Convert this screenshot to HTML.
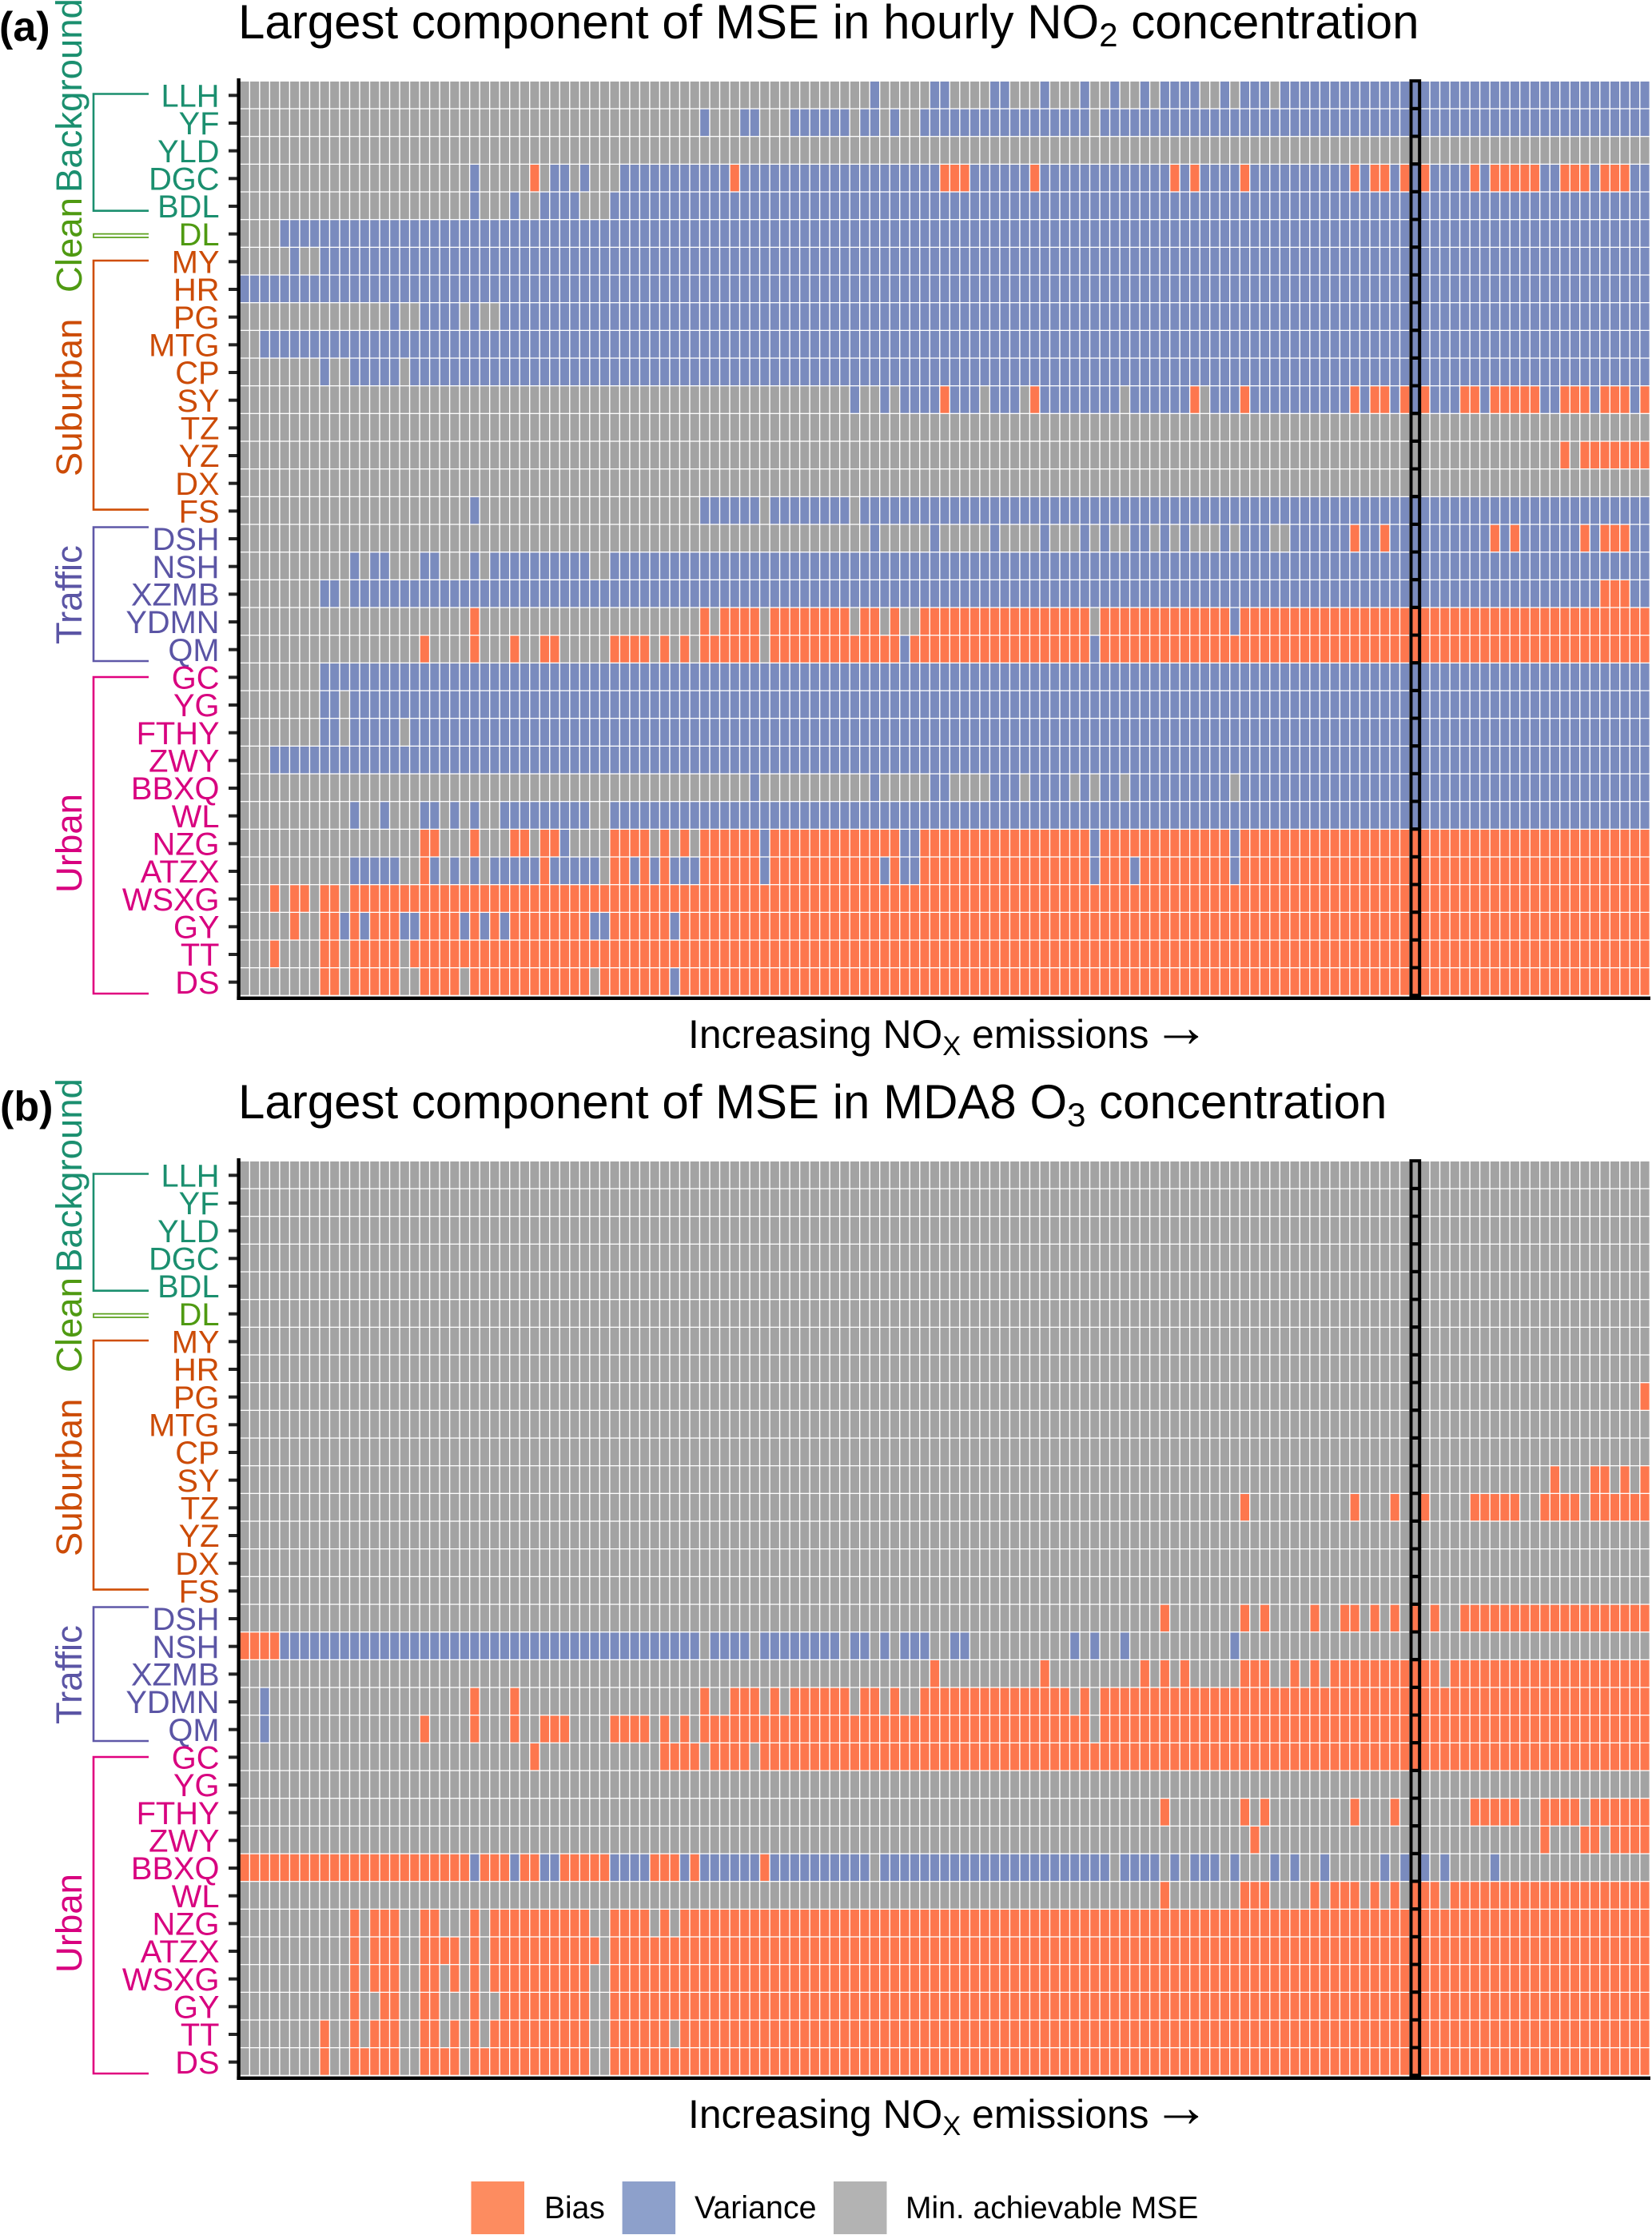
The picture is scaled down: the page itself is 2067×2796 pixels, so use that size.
<!DOCTYPE html>
<html lang="en">
<head>
<meta charset="utf-8">
<title>Largest component of MSE</title>
<style>
html,body{margin:0;padding:0;background:#fff;}
svg{display:block;font-family:"Liberation Sans",Arial,sans-serif;}
</style>
</head>
<body>
<svg id="chart" xmlns="http://www.w3.org/2000/svg" width="2067" height="2796" viewBox="0 0 2067 2796">
  <rect x="0" y="0" width="2067" height="2796" fill="#fff"/>

  <g id="panel-a">
    <text x="-1" y="51" font-size="52" font-weight="bold" fill="#000">(a)</text>
    <text x="298" y="48" font-size="60" fill="#000">Largest component of MSE in hourly NO<tspan font-size="42" dy="10">2</tspan><tspan dy="-10"> concentration</tspan></text>
    <g id="cells-a"></g>
    <g id="ylabels-a"></g>
    <g fill="none" stroke-width="2.6">
      <path d="M186 117.5H117V263.7H186" stroke="#1b8f6f"/>
      <path d="M186 292.6H117V297H186" stroke="#5ba01c" stroke-width="1.7"/>
      <path d="M186 326H117V637.6H186" stroke="#cf4e06"/>
      <path d="M186 659.5H117V827H186" stroke="#5f58a8"/>
      <path d="M186 847H117V1243H186" stroke="#e0007f"/>
    </g>
    <g font-size="45.5">
      <text transform="translate(102 241) rotate(-90)" fill="#1b8f6f">Background</text>
      <text transform="translate(102 366) rotate(-90)" fill="#4f9a12">Clean</text>
      <text transform="translate(102 596) rotate(-90)" fill="#cc4b06">Suburban</text>
      <text transform="translate(102 806) rotate(-90)" fill="#5b55a5">Traffic</text>
      <text transform="translate(102 1117) rotate(-90)" fill="#d8007f">Urban</text>
    </g>
    <text x="861" y="1311" font-size="49.8" fill="#000">Increasing NO<tspan font-size="34.5" dy="9">X</tspan><tspan dy="-9"> emissions</tspan><tspan font-size="72" x="1442" dy="-2">→</tspan></text>
  </g>

  <g id="panel-b">
    <text x="0" y="1401.5" font-size="52" font-weight="bold" fill="#000">(b)</text>
    <text x="298" y="1399" font-size="60" fill="#000">Largest component of MSE in MDA8 O<tspan font-size="42" dy="10">3</tspan><tspan dy="-10"> concentration</tspan></text>
    <g id="cells-b"></g>
    <g id="ylabels-b"></g>
    <g fill="none" stroke-width="2.6">
      <path d="M186 1468.5H117V1614.7H186" stroke="#1b8f6f"/>
      <path d="M186 1643.6H117V1648H186" stroke="#5ba01c" stroke-width="1.7"/>
      <path d="M186 1677H117V1988.6H186" stroke="#cf4e06"/>
      <path d="M186 2010.5H117V2178H186" stroke="#5f58a8"/>
      <path d="M186 2198H117V2594H186" stroke="#e0007f"/>
    </g>
    <g font-size="45.5">
      <text transform="translate(102 1592) rotate(-90)" fill="#1b8f6f">Background</text>
      <text transform="translate(102 1717) rotate(-90)" fill="#4f9a12">Clean</text>
      <text transform="translate(102 1947) rotate(-90)" fill="#cc4b06">Suburban</text>
      <text transform="translate(102 2157) rotate(-90)" fill="#5b55a5">Traffic</text>
      <text transform="translate(102 2468) rotate(-90)" fill="#d8007f">Urban</text>
    </g>
    <text x="861" y="2662" font-size="49.8" fill="#000">Increasing NO<tspan font-size="34.5" dy="9">X</tspan><tspan dy="-9"> emissions</tspan><tspan font-size="72" x="1442" dy="-2">→</tspan></text>
  </g>

  <g>
    <rect x="589.5" y="2729" width="66.5" height="66" fill="#fd8c60"/>
    <text x="681" y="2775" font-size="39" fill="#000">Bias</text>
    <rect x="778.6" y="2729" width="66.5" height="66" fill="#8da0cb"/>
    <text x="869" y="2775" font-size="39.4" fill="#000">Variance</text>
    <rect x="1043" y="2729" width="66.5" height="66" fill="#b3b3b3"/>
    <text x="1133" y="2775" font-size="39" fill="#000">Min. achievable MSE</text>
  </g>
</svg>
<script>
const sites = ['LLH','YF','YLD','DGC','BDL','DL','MY','HR','PG','MTG','CP','SY','TZ','YZ','DX','FS','DSH','NSH','XZMB','YDMN','QM','GC','YG','FTHY','ZWY','BBXQ','WL','NZG','ATZX','WSXG','GY','TT','DS'];
const siteGroupNames = ['Background','Clean','Suburban','Traffic','Urban'];
const siteGroupCounts = [5,1,10,5,12];
const scenarioCount = 141;
const highlightedScenario = 117;

// Each row lists state changes: letter = component (g min. achievable MSE, v variance, b bias),
// number = scenario index at which that component becomes the largest.
const no2LargestComponent = [
  'g0 v63 g64 v69 g71 v75 g77 v80 g81 v84 g85 v87 g88 v90 g91 v92 g96 v98 g99 v100 g103 v104',
  'g0 v46 g47 v50 g52 v55 g61 v62 g64 v65 g66 v68 g85 v86',
  'g0',
  'g0 v23 g24 b29 g30 v31 g33 v34 g35 v38 b49 v50 b70 v73 b79 v80 b93 v94 b95 v96 b100 v101 b111 v112 b113 v115 b116 v117 b118 v119 b123 v124 b125 v130 b132 v135 b136 v139',
  'g0 v23 g24 v27 g28 v30 g34 v37',
  'g0 v4',
  'g0 v5 g6 v8',
  'v0',
  'g0 v15 g16 v18 g22 v23 g24 v26',
  'g0 v2',
  'g0 v8 g9 v11 g16 v17',
  'g0 v61 g62 v64 g65 v66 b70 v71 g74 v75 g78 b79 v80 g88 v89 b95 g96 v97 b100 v101 b111 v112 b113 v115 b116 v117 b118 v119 b122 v124 b125 v130 b132 v135 b136 v139 b140',
  'g0',
  'g0 b132 g133 b134',
  'g0',
  'g0 v23 g24 v46 g52 v53 g61 v62',
  'g0 v63 g64 v69 g70 v75 g76 v80 g81 v84 g85 v86 g87 v89 g91 v92 g93 v94 g95 v98 g99 v100 g103 v105 b111 v112 b114 v115 b125 v126 b127 v128 b134 v135 b136 v139',
  'g0 v11 g12 v13 g15 v18 g20 v23 g24 v25 g35 v37',
  'g0 v8 g10 v11 b136 v139',
  'g0 b23 g24 b46 g47 b48 g52 b53 g61 b62 g64 b65 g66 b68 g85 b86 v99 b100',
  'g0 b18 g19 b23 g24 b27 g28 b30 g32 b37 g41 b42 g43 b44 g45 b46 g52 b53 v66 b67 v85 b86',
  'g0 v8',
  'g0 v8 g10 v11',
  'g0 v8 g10 v11 g16 v17',
  'g0 v3',
  'g0 v51 g52 v63 g64 v69 g71 v75 g78 v79 g83 v84 g85 v86 g88 v89 g99 v100',
  'g0 v11 g12 v14 g15 v18 g20 v21 g22 v23 g24 v26 g35 v37',
  'g0 b18 g20 b23 g24 b27 g29 b30 v32 g33 b37 g41 b42 g43 b44 g45 b46 v52 b53 v66 b68 v85 b86 v99 b100',
  'g0 v11 g16 b18 v19 g20 v21 g22 v23 g24 v25 b30 v31 g36 b37 v39 b40 v41 b42 v43 b46 v52 b53 v64 b65 v66 b68 v85 b86 v89 b90 v99 b100',
  'g0 b3 g4 b5 g7 b8 g10 b11',
  'g0 b5 g6 b8 v10 b11 v12 b13 v16 b18 v22 b23 v24 b25 v26 b27 v35 b37 v43 b44',
  'g0 b3 g4 b8 g10 b11 g16 b17',
  'g0 b8 g10 b11 g16 b18 g22 b23 g35 b36 v43 b44'
];

const o3LargestComponent = [
  'g0','g0','g0','g0','g0','g0','g0','g0',
  'g0 b140',
  'g0','g0',
  'g0 b131 g132 b135 g137 b138 g139 b140',
  'g0 b100 g101 b111 g112 b115 g116 b118 g119 b123 g128 b130 g134 b135',
  'g0','g0','g0',
  'g0 b92 g93 b100 g101 b102 g103 b107 g108 b110 g112 b113 g114 b115 g116 b117 g118 b119 g120 b122',
  'b0 v4 g46 v47 g51 v52 g60 v61 g63 v64 g65 v66 g69 v71 g73 v83 g84 v85 g86 v88 g89 v99 g100',
  'g0 b69 g70 b80 g81 b90 g91 b92 g93 b94 g95 b100 g103 b105 g106 b107 g108 b109 g120 b121',
  'g0 v2 g3 b23 g24 b27 g28 b46 g47 b49 g52 b53 g54 b55 g61 b62 g64 b65 g66 b68 g83 b84 g85 b86',
  'g0 v2 g3 b18 g19 b23 g24 b27 g28 b30 g33 b37 g41 b42 g43 b44 g45 b46 g85 b86',
  'g0 b29 g30 b42 g46 b47 g51 b52',
  'g0',
  'g0 b92 g93 b100 g101 b102 g103 b111 g112 b115 g116 b123 g128 b130 g134 b135',
  'g0 b101 g102 b130 g131 b134 g136 b137',
  'b0 v23 b24 v27 b28 v30 b32 v37 b41 v44 b45 v46 b52 v53 g63 v64 g87 v88 g92 v93 g94 v95 g98 v99 g100 v103 g104 v105 g106 v108 g109 v114 g115 v116 g117 v118 g119 v120 g121 v125 g126',
  'g0 b92 g93 b100 g103 b107 g108 b109 g112 b113 g114 b115 g116 b117 g120 b121',
  'g0 b11 g12 b13 g16 b18 g20 b23 g24 b25 g35 b37 g41 b42 g43 b44',
  'g0 b11 g12 b13 g16 b18 g22 b23 g24 b25 g36 b37',
  'g0 b11 g12 b13 g16 b18 g20 b21 g22 b23 g24 b25 g35 b37',
  'g0 b11 g12 b14 g16 b18 g20 b23 g24 b26 g35 b37',
  'g0 b8 g9 b11 g12 b13 g16 b18 g20 b21 g22 b23 g24 b25 g35 b37 g43 b44',
  'g0 b8 g9 b11 g16 b18 g22 b23 g35 b37'
];

const SVGNS = 'http://www.w3.org/2000/svg';
const PLOT_LEFT = 300.5;
const PLOT_RIGHT = 2065;
const componentFill = { g: '#a3a3a3', v: '#7a8bbe', b: '#fd774e' };
const componentName = { g: 'min-achievable-mse', v: 'variance', b: 'bias' };
const groupTextFill = { Background: '#1b8f6f', Clean: '#4f9a12', Suburban: '#cc4b06', Traffic: '#5b55a5', Urban: '#d8007f' };

function xScale(c) { return PLOT_LEFT + c * (PLOT_RIGHT - PLOT_LEFT) / scenarioCount; }
function yScale(r, top, bottom) { return top + r * (bottom - top) / sites.length; }

function expandRow(spec) {
  const tokens = spec.trim().split(/\s+/);
  const out = new Array(scenarioCount);
  for (let t = 0; t < tokens.length; t++) {
    const state = tokens[t][0];
    const start = parseInt(tokens[t].slice(1), 10);
    const end = t + 1 < tokens.length ? parseInt(tokens[t + 1].slice(1), 10) : scenarioCount;
    for (let c = start; c < end && c < scenarioCount; c++) out[c] = state;
  }
  return out;
}

function make(tag, attrs) {
  const el = document.createElementNS(SVGNS, tag);
  for (const k in attrs) el.setAttribute(k, attrs[k]);
  return el;
}

function siteGroup(r) {
  let acc = 0;
  for (let g = 0; g < siteGroupCounts.length; g++) {
    acc += siteGroupCounts[g];
    if (r < acc) return siteGroupNames[g];
  }
  return siteGroupNames[siteGroupNames.length - 1];
}

function drawPanel(cellsId, labelsId, rows, top, bottom) {
  const cells = document.getElementById(cellsId);
  const labels = document.getElementById(labelsId);
  const cw = xScale(1) - xScale(0);
  const rh = yScale(1, top, bottom) - yScale(0, top, bottom);

  rows.forEach(function (spec, r) {
    const states = expandRow(spec);
    const y = yScale(r, top, bottom);
    for (let c = 0; c < scenarioCount; c++) {
      const cell = make('rect', { x: xScale(c), y: y, width: cw - 1.4, height: rh - 1.3, fill: componentFill[states[c]] });
      
      
      cells.appendChild(cell);
    }
  });

  sites.forEach(function (site, r) {
    const cy = yScale(r + 0.5, top, bottom);
    const tick = make('rect', { x: 286, y: cy - 2, width: 12, height: 4, fill: '#262626' });
    
    
    labels.appendChild(tick);
    const label = make('text', { x: 274.5, y: cy + 14.2, 'font-size': 39.8, 'text-anchor': 'end', fill: groupTextFill[siteGroup(r)] });
    
    
    label.textContent = site;
    labels.appendChild(label);
  });

  const yAxis = make('rect', { x: 296.4, y: top - 4, width: 4.4, height: bottom - top + 9, fill: '#000' });
  
  
  labels.appendChild(yAxis);

  const xAxis = make('rect', { x: 296.4, y: bottom + 0.6, width: PLOT_RIGHT - 296.4, height: 4.4, fill: '#000' });
  
  
  labels.appendChild(xAxis);

  for (let r = 0; r < sites.length; r++) {
    const box = make('rect', {
      x: xScale(highlightedScenario) + 0.8,
      y: yScale(r, top, bottom) - 0.8,
      width: cw - 1.8,
      height: rh,
      fill: 'none',
      stroke: '#000',
      'stroke-width': 4
    });
    
    
    labels.appendChild(box);
  }
}

drawPanel('cells-a', 'ylabels-a', no2LargestComponent, 102, 1246);
drawPanel('cells-b', 'ylabels-b', o3LargestComponent, 1453, 2597);
</script>
</body>
</html>
